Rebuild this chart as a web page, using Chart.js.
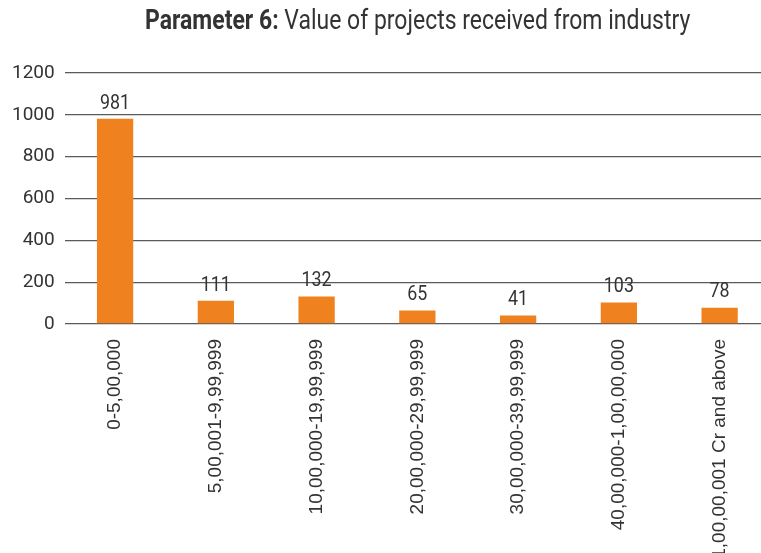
<!DOCTYPE html>
<html>
<head>
<meta charset="utf-8">
<script src="https://cdn.jsdelivr.net/npm/chart.js@4.4.1/dist/chart.umd.min.js"></script>
<style>
  html, body { margin: 0; padding: 0; background: #fff; overflow: hidden; }
  #wrap { position: relative; width: 770px; height: 553px; }
  #title {
    position: absolute; left: 145px; top: 6px; white-space: nowrap;
    font-family: Roboto, sans-serif; font-size: 28px; line-height: 28px;
    color: #333; transform-origin: 0 0;
  }
  #title b { font-weight: bold; }
</style>
</head>
<body>
<div id="wrap">
  <div id="title"><b>Parameter 6:</b> Value of projects received from industry</div>
  <canvas id="chart" width="770" height="553"></canvas>
</div>
<script>
const categories = [
    "0-5,00,000",
    "5,00,001-9,99,999",
    "10,00,000-19,99,999",
    "20,00,000-29,99,999",
    "30,00,000-39,99,999",
    "40,00,000-1,00,00,000",
    "1,00,00,001 Cr and above",
];
const projects = [981, 111, 132, 65, 41, 103, 78];
const yTicks = [0, 200, 400, 600, 800, 1000, 1200];

const orange = "rgb(239, 130, 30)";
const gridColor = "#5a5a5a";

// squeeze the title like a condensed face
const title = document.getElementById("title");
title.style.transform = "scaleX(" + (545 / title.offsetWidth) + ")";

// value labels above each bar (narrowed Roboto)
const valueLabels = {
    id: "valueLabels",
    afterDatasetsDraw(chart) {
        const ctx = chart.ctx;
        const meta = chart.getDatasetMeta(0);
        const sx = 0.85;
        ctx.save();
        ctx.font = "21px Roboto, sans-serif";
        ctx.fillStyle = "#333";
        ctx.textAlign = "center";
        ctx.textBaseline = "bottom";
        meta.data.forEach((bar, i) => {
            ctx.save();
            ctx.translate(bar.x, bar.y - 5);
            ctx.scale(sx, 1);
            ctx.fillText(String(projects[i]), 0, 0);
            ctx.restore();
        });
        ctx.restore();
    },
};

const ctx = document.getElementById("chart").getContext("2d");
const chart = new Chart(ctx, {
    type: "bar",
    data: {
        labels: categories,
        datasets: [{
            data: projects,
            backgroundColor: orange,
            borderWidth: 0,
            barPercentage: 0.36,
            categoryPercentage: 1,
        }],
    },
    options: {
        responsive: false,
        animation: false,
        layout: {
            padding: { top: 73, left: 2, right: 0, bottom: 0 },
        },
        plugins: {
            legend: { display: false },
            tooltip: { enabled: false },
        },
        scales: {
            x: {
                grid: { display: false, drawTicks: false },
                border: { display: false },
                ticks: {
                    maxRotation: 90,
                    minRotation: 90,
                    autoSkip: false,
                    padding: 15,
                    color: "#333",
                    font: { family: '"Liberation Sans", Arial, sans-serif', size: 19 },
                },
                afterFit: function(scale) {
                    scale.height = 229;
                },
            },
            y: {
                min: 0,
                max: 1200,
                afterBuildTicks: function(scale) {
                    scale.ticks = yTicks.map((v) => ({ value: v }));
                },
                grid: {
                    color: gridColor,
                    lineWidth: 1.3,
                    drawTicks: false,
                },
                border: { display: false },
                ticks: {
                    padding: 10,
                    color: "#333",
                    font: { family: "Roboto, sans-serif", size: 19 },
                    callback: function(value) {
                        return String(value);
                    },
                },
            },
        },
    },
    plugins: [valueLabels],
});
</script>
</body>
</html>
